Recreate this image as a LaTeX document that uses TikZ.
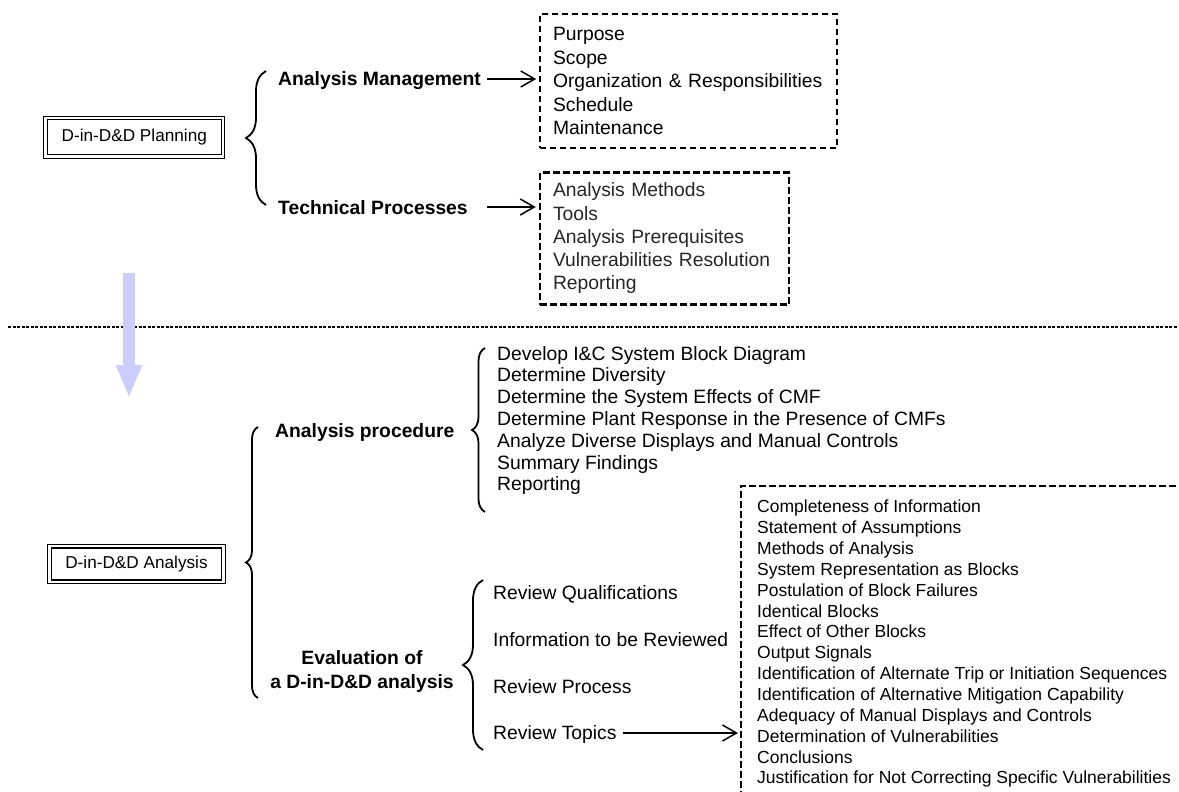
\documentclass[tikz,border=0pt]{standalone}
\usepackage{fontspec}
\setmainfont{Liberation Sans}
\usepackage{xcolor}
\usetikzlibrary{arrows.meta, decorations.pathreplacing, positioning}
\definecolor{flowblue}{RGB}{204,204,255}

\begin{document}
\begin{tikzpicture}[x=1pt, y=-1pt,
    titlebox/.style={draw, double, double distance=2.4pt, line width=1.2pt, inner sep=0pt, font=\fontsize{17.2}{20}\selectfont},
    head/.style={inner sep=0pt, anchor=base west, font=\fontsize{19.3}{23.5}\selectfont\bfseries},
    item/.style={inner sep=0pt, anchor=base west, font=\fontsize{19.3}{23.5}\selectfont},
    listbox/.style={draw, inner xsep=13pt, inner ysep=0pt, align=left},
    curly/.style={decorate, decoration={brace, amplitude=#1}, line width=1.8pt},
    pointer/.style={-{Straight Barb[length=14pt, width=16pt]}, line width=1.5pt, shorten >=3pt}]

    \useasboundingbox (0,0) rectangle (1179,792);

    % planning part
    \node[titlebox, minimum width=177.5pt, minimum height=38.5pt] (plan) at (134.3,137.3) {D-in-D\&D Planning};
    \node[head] (am) at (278,86) {Analysis Management};
    \node[head, below=128pt of am.base west, anchor=base west] (tp) {Technical Processes};

    \node[listbox, text width=271pt, minimum width=297pt, minimum height=134pt, line width=1.5pt, dash pattern=on 6pt off 4pt, font=\fontsize{19.3}{23.5}\selectfont] (mgmt) at (688.5,81)
        {Purpose\\Scope\\Organization \& Responsibilities\\Schedule\\Maintenance};
    \node[listbox, text width=223pt, minimum width=249pt, minimum height=132pt, line width=2.5pt, dash pattern=on 7pt off 3pt, text=black!85, font=\fontsize{19.3}{23.25}\selectfont] (tech) at (664.5,238.5)
        {Analysis Methods\\Tools\\Analysis Prerequisites\\Vulnerabilities Resolution\\Reporting};

    \coordinate (b1-top) at (266,71);
    \coordinate (b1-bot) at (266,205);
    \draw[curly=20pt] (b1-bot) -- (b1-top);

    \coordinate (am-out) at (487,79);
    \coordinate (tp-out) at (487,207);
    \draw[pointer] (am-out) -- (mgmt.west |- am-out);
    \draw[pointer] (tp-out) -- (tech.west |- tp-out);

    % separator and flow arrow
    \coordinate (sep-l) at (8,327);
    \coordinate (sep-r) at (1177,327);
    \draw[line width=2pt, dash pattern=on 3pt off 1.5pt] (sep-l) -- (sep-r);
    \coordinate (flow-top) at (129,273);
    \coordinate (flow-tip) at (129,398);
    \draw[flowblue, line width=12pt, -{Triangle[length=33pt, width=24pt]}] (flow-top) -- (flow-tip);

    % analysis part
    \node[titlebox, minimum width=174pt, minimum height=35.5pt] (anal) at (136.5,564) {D-in-D\&D Analysis};
    \node[head] (ap) at (275,437) {Analysis procedure};
    \node[inner sep=0pt, anchor=north, align=center, font=\fontsize{19.3}{24.4}\selectfont\bfseries] (ev) at (362,650)
        {Evaluation of\\a D-in-D\&D analysis};

    \node[inner sep=0pt, anchor=north west, align=left, font=\fontsize{19.3}{21.8}\selectfont] (steps) at (497,346)
        {Develop I\&C System Block Diagram\\Determine Diversity\\Determine the System Effects of CMF\\Determine Plant Response in the Presence of CMFs\\Analyze Diverse Displays and Manual Controls\\Summary Findings\\Reporting};

    \node[item] (rq) at (493,599) {Review Qualifications};
    \node[item, below=47.3pt of rq.base west, anchor=base west] (ri) {Information to be Reviewed};
    \node[item, below=47pt of ri.base west, anchor=base west] (rp) {Review Process};
    \node[item, below=46pt of rp.base west, anchor=base west] (rt) {Review Topics};

    \node[anchor=north west, inner xsep=16pt, inner ysep=14pt, align=left, font=\fontsize{17.5}{20.85}\selectfont] (topics) at (741,486)
        {Completeness of Information\\Statement of Assumptions\\Methods of Analysis\\System Representation as Blocks\\Postulation of Block Failures\\Identical Blocks\\Effect of Other Blocks\\Output Signals\\Identification of Alternate Trip or Initiation Sequences\\Identification of Alternative Mitigation Capability\\Adequacy of Manual Displays and Controls\\Determination of Vulnerabilities\\Conclusions\\Justification for Not Correcting Specific Vulnerabilities};
    \draw[line width=2.5pt, dash pattern=on 7pt off 3pt] ([xshift=-11pt]topics.north east) -- (topics.north west) -- (topics.south west);

    \coordinate (b2-top) at (258,427);
    \coordinate (b2-bot) at (258,698);
    \draw[curly=12pt] (b2-bot) -- (b2-top);
    \coordinate (b3-top) at (485,348);
    \coordinate (b3-bot) at (485,512);
    \draw[curly=13pt] (b3-bot) -- (b3-top);
    \coordinate (b4-top) at (483,580);
    \coordinate (b4-bot) at (483,750);
    \draw[curly=20pt] (b4-bot) -- (b4-top);

    \coordinate (rt-out) at (623,733);
    \draw[pointer] (rt-out) -- (topics.west |- rt-out);

\end{tikzpicture}
\end{document}
